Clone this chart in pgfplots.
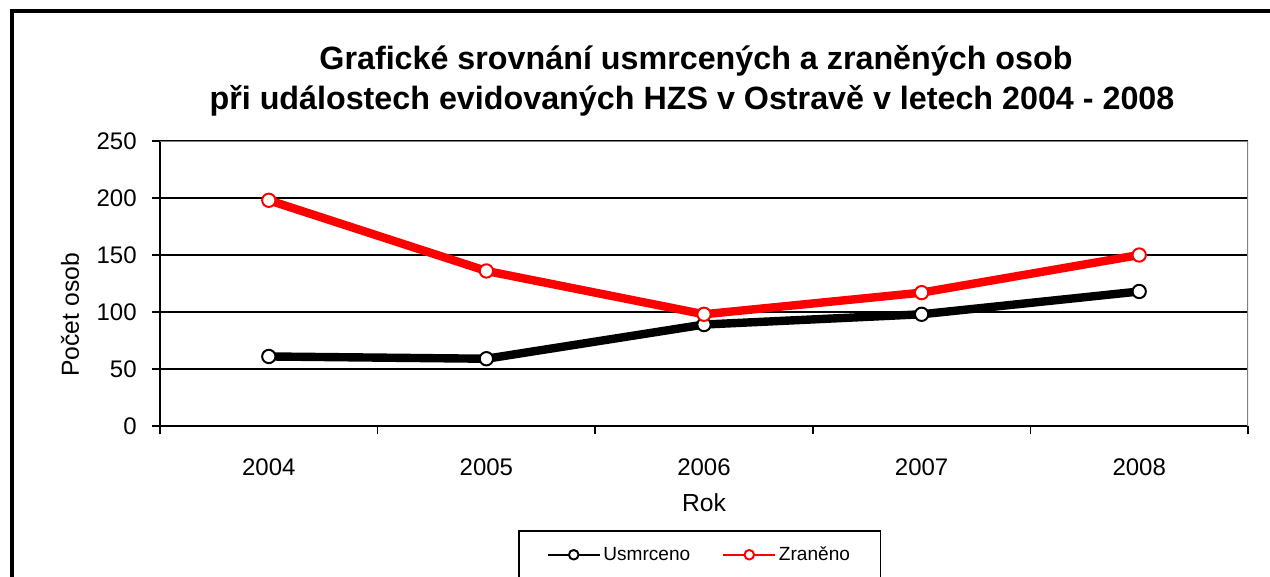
\documentclass[border=0pt]{standalone}
\usepackage{pgfplots}
\pgfplotsset{compat=1.18}
\usepackage{fontspec}
\setmainfont{Liberation Sans}
\begin{document}
\begin{tikzpicture}[x=0.75pt,y=0.75pt]
\useasboundingbox (0,0) rectangle (1270,576);
\draw[line width=3pt] (12,-30) -- (12,565) -- (1300,565);
\node[anchor=base, font=\fontsize{24.2}{28}\selectfont\bfseries, inner sep=0pt] at (696,506) {Grafické srovnání usmrcených a zraněných osob};
\node[anchor=base, font=\fontsize{24.2}{28}\selectfont\bfseries, inner sep=0pt] at (692,466) {při událostech evidovaných HZS v Ostravě v letech 2004 - 2008};
\begin{axis}[
  at={(120pt,112.5pt)}, anchor=south west, scale only axis,
  width=816pt, height=213.75pt,
  xmin=-0.5, xmax=4.5, ymin=0, ymax=250,
  xtick={0,1,2,3,4}, xticklabels={2004,2005,2006,2007,2008},
  minor xtick={-0.5,0.5,1.5,2.5,3.5,4.5},
  ytick={0,50,100,150,200,250},
  axis x line*=bottom, axis y line*=left,
  axis line style={-, black, line width=2pt},
  tick align=outside,
  major x tick style={draw=none},
  minor x tick style={black, line width=1.2pt},
  y tick style={black, line width=1.2pt},
  major tick length=6pt, minor tick length=6pt,
  ymajorgrids, y grid style={black, line width=1pt},
  tick label style={font=\fontsize{18}{21}\selectfont},
  /pgf/number format/assume math mode=true,
  xticklabel style={yshift=-15pt},
  yticklabel style={xshift=-8pt},
  label style={font=\fontsize{18.5}{21}\selectfont},
  xlabel={Rok},
  xlabel style={at={(axis description cs:0.5,-0.27)}, anchor=center},
  ylabel={Počet osob},
  ylabel style={at={(axis description cs:-0.0827,0.39)}, anchor=center},
  legend columns=2,
  legend style={at={(axis description cs:0.329,-0.365)}, anchor=north west,
    draw=black, line width=1.2pt, font=\fontsize{14.3}{17}\selectfont,
    inner xsep=21pt, inner ysep=10pt,
    /tikz/every even column/.append style={column sep=22pt}},
  legend image code/.code={
    \draw[#1, line width=1.5pt, mark size=3.6pt, mark repeat=2, mark phase=2]
      plot coordinates {(0pt,0pt) (19.5pt,0pt) (39pt,0pt)};
  },
]
\addplot[black, line width=6.3pt, line join=round, mark=*,
  mark options={fill=white, draw=black, line width=1.5pt}, mark size=5pt]
  coordinates {(0,61) (1,59) (2,89) (3,98) (4,118)};
\addlegendentry{Usmrceno}
\addplot[red, line width=6.3pt, line join=round, mark=*,
  mark options={fill=white, draw=red, line width=1.5pt}, mark size=5pt]
  coordinates {(0,198) (1,136) (2,98) (3,117) (4,150)};
\addlegendentry{Zraněno}
\draw[gray, line width=2pt] (rel axis cs:0,1) -- (rel axis cs:1,1) -- (rel axis cs:1,0);
\end{axis}
\end{tikzpicture}
\end{document}
